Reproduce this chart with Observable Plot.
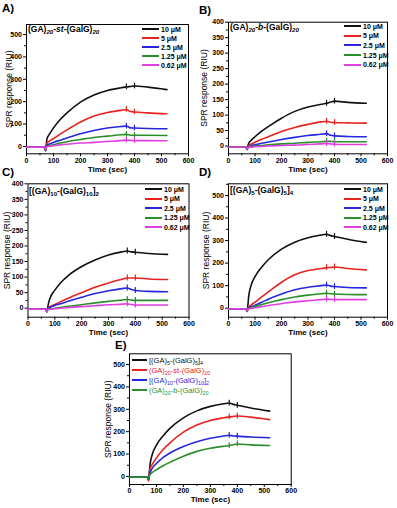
<!DOCTYPE html>
<html>
<head>
<meta charset="utf-8">
<script src="https://cdn.jsdelivr.net/npm/d3@7"></script>
<script src="https://cdn.jsdelivr.net/npm/@observablehq/plot@0.6"></script>
<style>
  body { margin: 0; background: #fff; }
  #fig { position: relative; width: 397px; height: 508px; overflow: hidden;
         font-family: "Liberation Sans", Arial, sans-serif; color: #000; }
  #fig svg { position: absolute; }
  .tag { position: absolute; font-weight: bold; font-size: 11.5px; line-height: 1; }
  .title { position: absolute; font-weight: bold; font-size: 8.5px; line-height: 1; white-space: nowrap; }
  sub { font-size: 0.72em; vertical-align: -0.3em; line-height: 0; }
  .legend { position: absolute; }
  .legend .row { display: flex; align-items: center; white-space: nowrap; }
  .legend .key { display: inline-block; height: 2px; margin-right: 2px; }
</style>
</head>
<body>
<div id="fig"></div>
<script>
// Sampling times of the sensorgrams (s)
const time = [0, 65, 71, 73, 76, 85, 100, 125, 150, 200, 250, 300, 350, 370, 385, 400, 450, 520];
const spikeIdx = [13, 15]; // injection end / wash markers at 370 s and 400 s

const concentrations = ["10 μM", "5 μM", "2.5 μM", "1.25 μM", "0.62 μM"];
const concColors = ["#111111", "#e8221f", "#2626e0", "#2a8f2a", "#e03ee0"];

const xTicks = [0, 100, 200, 300, 400, 500, 600];
const xMinor = [50, 150, 250, 350, 450, 550];

// A) (GA)20-st-(GalG)20 — SPR response (RIU)
const stA10  = [-3, -3, -20,  5, 35, 55, 83, 120, 150, 198, 230, 250, 262, 266, 268, 270, 265, 254];
const stA5   = [-3, -3, -17,  0, 15, 24, 35,  55,  74, 109, 136, 152, 161, 165, 156, 154, 150, 146];
const stA25  = [-3, -3, -16, -2,  5, 11, 18,  28,  38,  57,  71,  82,  89,  91,  83,  82,  80,  79];
const stA125 = [-3, -3, -15, -3,  0,  4,  8,  15,  21,  31,  40,  46,  52,  54,  50,  50,  50,  49];
const stA062 = [-3, -3, -14, -4, -2,  1,  3,   7,  10,  15,  18,  22,  26,  28,  27,  26,  26,  25];

// B) (GA)20-b-(GalG)20
const bB10  = [-3, -3, -12,  0,  8, 18, 30, 48, 63, 90, 112, 126, 135, 138, 142, 145, 141, 138];
const bB5   = [-3, -3, -11, -2,  2,  6, 12, 22, 30, 47,  60,  70,  78,  80,  77,  76,  75,  74];
const bB25  = [-3, -3, -10, -4, -2,  1,  4,  9, 13, 21,  28,  34,  38,  40,  35,  33,  31,  30];
const bB125 = [-3, -3, -10, -4, -3, -2,  0,  2,  4,  7,   9,  12,  14,  15,  15,  14,  14,  14];
const bB062 = [-3, -3, -10, -5, -4, -3, -2, -1,  0,  2,   3,   5,   7,   8,   7,   6,   5,   5];

// C) [(GA)10-(GalG)10]2
const mC10  = [-3, -3, -12,  0, 14, 38, 58, 85, 105, 134, 155, 171, 181, 184, 181, 180, 176, 173];
const mC5   = [-3, -3, -11, -2,  2,  6, 12, 22,  32,  50,  67,  81,  93,  97,  97,  97,  94,  92];
const mC25  = [-3, -3, -11, -3,  0,  4,  9, 15,  22,  35,  47,  56,  63,  65,  60,  57,  54,  53];
const mC125 = [-3, -3, -10, -4, -3, -2,  0,  3,   6,  11,  17,  22,  26,  28,  26,  25,  25,  25];
const mC062 = [-3, -3, -10, -5, -4, -3, -2,  0,   2,   5,   8,  11,  13,  14,  12,  10,  10,  10];

// D) [(GA)5-(GalG)5]4
const mD10  = [-3, -3, -15, 10, 50, 100, 140, 182, 215, 262, 293, 313, 325, 328, 322, 318, 306, 292];
const mD5   = [-3, -3, -13,  0,  5,  14,  27,  50,  72, 115, 148, 167, 176, 180, 181, 183, 176, 170];
const mD25  = [-3, -3, -12, -2,  1,   6,  13,  26,  40,  63,  82,  93, 100, 103,  98,  96,  92,  90];
const mD125 = [-3, -3, -12, -3, -1,   3,   8,  16,  24,  38,  50,  58,  64,  66,  64,  63,  61,  60];
const mD062 = [-3, -3, -12, -4, -3,  -1,   2,   7,  12,  20,  28,  33,  38,  40,  39,  38,  38,  38];

// E) comparison of the 10 μM responses
const copolymerNames = [
  "[(GA)<sub>5</sub>-(GalG)<sub>5</sub>]<sub>4</sub>",
  "(GA)<sub>20</sub>-st-(GalG)<sub>20</sub>",
  "[(GA)<sub>10</sub>-(GalG)<sub>10</sub>]<sub>2</sub>",
  "(GA)<sub>20</sub>-b-(GalG)<sub>20</sub>"
];
const copolymerColors = ["#111111", "#e8221f", "#2626e0", "#2a8f2a"];
const copolymer10 = [mD10, stA10, mC10, bB10];

const fig = document.getElementById("fig");
const noLabel = () => "";

function drawPanel({box, frame, yDomain, yStep, series, yLabelDx}) {
  const [bl, bt, bw, bh] = box;
  const [fl, fr, ft, fb] = frame;
  const yMajor = d3.range(0, yDomain[1] + 1e-6, yStep);
  const yMinor = d3.range(yStep / 2, yDomain[1], yStep);
  const half = (yDomain[1] - yDomain[0]) * 0.022;
  const marks = [
    Plot.axisX({ticks: xTicks, tickSize: 3, tickPadding: 1, label: null}),
    Plot.axisX({ticks: xMinor, tickSize: 2, tickFormat: noLabel, label: null}),
    Plot.axisY({ticks: yMajor, tickSize: 3, tickPadding: 1.5, label: null}),
    Plot.axisY({ticks: yMinor, tickSize: 2, tickFormat: noLabel, label: null}),
    Plot.frame({stroke: "#000", strokeWidth: 1})
  ];
  for (const s of series) {
    marks.push(Plot.line(s.values, {x: time, y: s.values, stroke: s.color, strokeWidth: 1.6, curve: "monotone-x"}));
    marks.push(Plot.ruleX(spikeIdx, {
      x: i => time[i], y1: i => s.values[i] - half, y2: i => s.values[i] + half,
      stroke: s.color, strokeWidth: 1.2
    }));
  }
  marks.push(Plot.text(["Time (sec)"], {frameAnchor: "bottom", dy: 17.7, fontSize: 8, fontWeight: "bold"}));
  marks.push(Plot.text(["SPR response (RIU)"], {frameAnchor: "left", textAnchor: "middle", dx: -yLabelDx,
    rotate: -90, fontSize: 8.5, fontWeight: "normal"}));
  const svg = Plot.plot({
    width: bw, height: bh,
    marginLeft: fl - bl, marginRight: bl + bw - fr,
    marginTop: ft - bt, marginBottom: bt + bh - fb,
    x: {domain: [0, 600]},
    y: {domain: yDomain},
    style: {background: "none", fontFamily: "Liberation Sans, Arial, sans-serif",
            fontSize: "7px", fontWeight: "bold", color: "#000", overflow: "visible"},
    marks
  });
  svg.style.left = bl + "px";
  svg.style.top = bt + "px";
  fig.appendChild(svg);
}

function addHTML(cls, html, left, top) {
  const el = document.createElement("div");
  el.className = cls;
  el.innerHTML = html;
  el.style.left = left + "px";
  el.style.top = top + "px";
  fig.appendChild(el);
  return el;
}

function addLegend(labels, colors, {left, top, rowH, keyW, fontSize, bold, colorText}) {
  const el = document.createElement("div");
  el.className = "legend";
  el.style.left = left + "px";
  el.style.top = top + "px";
  labels.forEach((lab, i) => {
    const row = document.createElement("div");
    row.className = "row";
    row.style.height = rowH + "px";
    row.style.fontSize = fontSize + "px";
    row.style.fontWeight = bold ? "bold" : "normal";
    const key = document.createElement("span");
    key.className = "key";
    key.style.width = keyW + "px";
    key.style.background = colors[i];
    const txt = document.createElement("span");
    txt.innerHTML = lab;
    if (colorText) txt.style.color = colors[i];
    row.appendChild(key);
    row.appendChild(txt);
    el.appendChild(row);
  });
  fig.appendChild(el);
}

const concSeries = arrs => arrs.map((values, i) => ({values, color: concColors[i]}));

// A
drawPanel({box: [0, 0, 197, 180], frame: [26, 188, 24, 153.3], yDomain: [-33, 545], yStep: 100,
  series: concSeries([stA10, stA5, stA25, stA125, stA062]), yLabelDx: 17.5});
// B
drawPanel({box: [197, 0, 200, 180], frame: [228, 387, 21.7, 153.3], yDomain: [-25, 400], yStep: 50,
  series: concSeries([bB10, bB5, bB25, bB125, bB062]), yLabelDx: 24});
// C
drawPanel({box: [0, 165, 197, 180], frame: [27.5, 188.5, 183.3, 316.7], yDomain: [-29, 400], yStep: 50,
  series: concSeries([mC10, mC5, mC25, mC125, mC062]), yLabelDx: 20.5});
// D
drawPanel({box: [197, 165, 200, 180], frame: [228, 387, 183.3, 316.7], yDomain: [-40, 552], yStep: 100,
  series: concSeries([mD10, mD5, mD25, mD125, mD062]), yLabelDx: 22});
// E
drawPanel({box: [100, 335, 200, 173], frame: [129, 290.7, 353.3, 484], yDomain: [-36, 548], yStep: 100,
  series: copolymer10.map((values, i) => ({values, color: copolymerColors[i]})), yLabelDx: 21.5});

// Panel tags
addHTML("tag", "A)", 2, 3);
addHTML("tag", "B)", 199, 5);
addHTML("tag", "C)", 2, 167);
addHTML("tag", "D)", 199, 167);
addHTML("tag", "E)", 115, 340);

// Panel titles
addHTML("title", "(GA)<sub><i>20</i></sub>-<i>st</i>-(GalG)<sub><i>20</i></sub>", 28, 25);
addHTML("title", "(GA)<sub><i>20</i></sub>-<i>b</i>-(GalG)<sub><i>20</i></sub>", 230, 23);
addHTML("title", "[(GA)<sub>10</sub>-(GalG)<sub>10</sub>]<sub>2</sub>", 29, 187);
addHTML("title", "[(GA)<sub>5</sub>-(GalG)<sub>5</sub>]<sub>4</sub>", 230, 186);

// Legends
const concLegend = {rowH: 9, keyW: 17, fontSize: 7, bold: true, colorText: false};
addLegend(concentrations, concColors, {...concLegend, left: 142, top: 24.5});
addLegend(concentrations, concColors, {...concLegend, left: 344, top: 21.5, rowH: 9.6});
addLegend(concentrations, concColors, {...concLegend, left: 145, top: 184.3, rowH: 9.6});
addLegend(concentrations, concColors, {...concLegend, left: 344, top: 184.3, rowH: 9.6});
addLegend(copolymerNames, copolymerColors, {left: 132, top: 355, rowH: 10, keyW: 15, fontSize: 7.5, bold: false, colorText: true});
</script>
</body>
</html>
